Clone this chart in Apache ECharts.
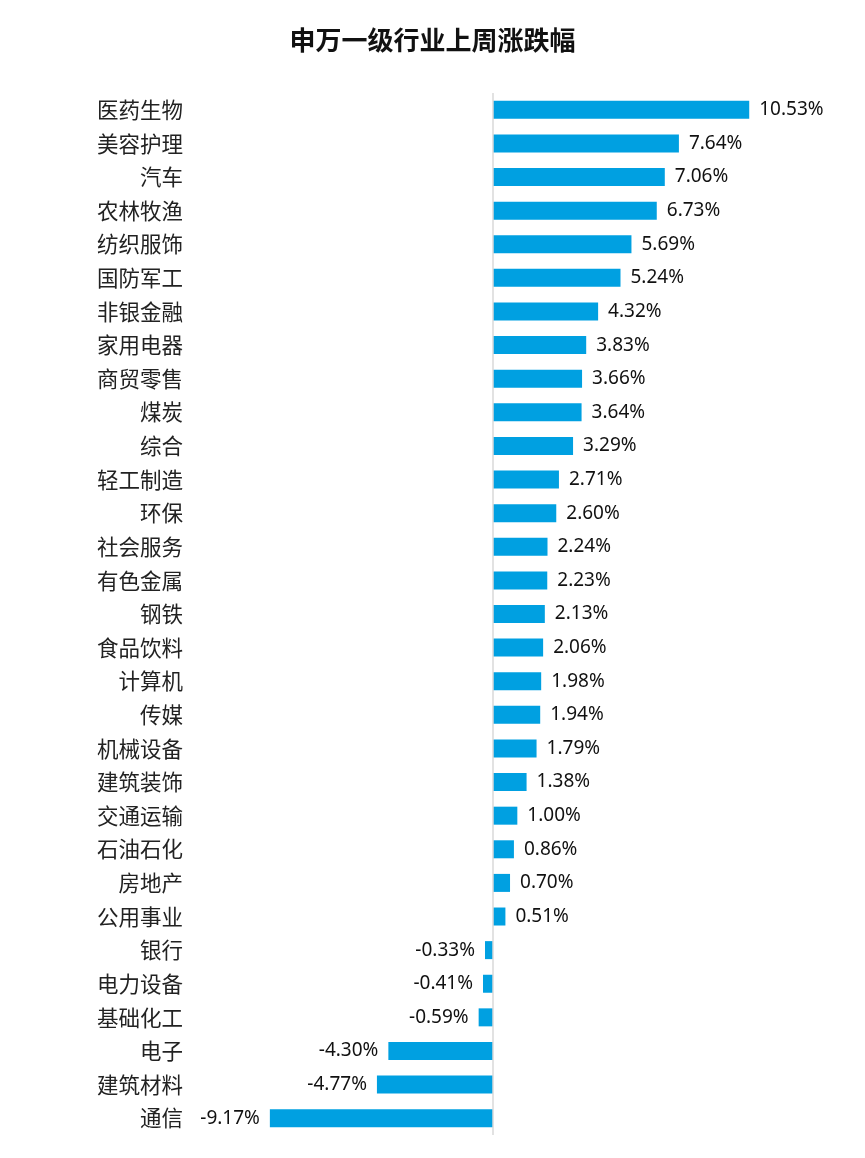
<!DOCTYPE html>
<html>
<head>
<meta charset="utf-8">
<script src="https://cdn.jsdelivr.net/npm/echarts@6/dist/echarts.min.js"></script>
<style>
html, body { margin: 0; padding: 0; background: #fff; }
#main { width: 865px; height: 1158px; }
</style>
</head>
<body>
<div id="main"></div>
<script>
var industries = ['医药生物','美容护理','汽车','农林牧渔','纺织服饰','国防军工','非银金融','家用电器','商贸零售','煤炭',
    '综合','轻工制造','环保','社会服务','有色金属','钢铁','食品饮料','计算机','传媒','机械设备',
    '建筑装饰','交通运输','石油石化','房地产','公用事业','银行','电力设备','基础化工','电子','建筑材料','通信'];
var weeklyChange = [10.53, 7.64, 7.06, 6.73, 5.69, 5.24, 4.32, 3.83, 3.66, 3.64,
    3.29, 2.71, 2.60, 2.24, 2.23, 2.13, 2.06, 1.98, 1.94, 1.79,
    1.38, 1.00, 0.86, 0.70, 0.51, -0.33, -0.41, -0.59, -4.30, -4.77, -9.17];

var barData = weeklyChange.map(function (v) {
    return {
        value: v,
        label: { position: v < 0 ? 'left' : 'right' }
    };
});

var option = {
    backgroundColor: '#fff',
    animation: false,
    title: {
        text: '申万一级行业上周涨跌幅',
        left: 'center',
        top: 22,
        textStyle: {
            fontFamily: 'Noto Sans CJK SC',
            fontSize: 26,
            fontWeight: 'bold',
            color: '#111'
        }
    },
    grid: {
        left: 201,
        right: 80,
        top: 93,
        bottom: 23,
        containLabel: false
    },
    xAxis: {
        type: 'value',
        min: -12,
        max: 12,
        show: false
    },
    yAxis: {
        type: 'category',
        inverse: true,
        data: industries,
        axisLine: { show: false },
        axisTick: { show: false },
        axisLabel: {
            margin: 18,
            padding: [8, 0, 0, 0],
            fontFamily: 'Noto Sans CJK SC',
            fontSize: 21.5,
            color: '#222'
        }
    },
    series: [
        {
            name: '涨跌幅',
            type: 'bar',
            barWidth: 18,
            itemStyle: { color: '#00A0E1' },
            label: {
                show: true,
                distance: 10,
                fontFamily: 'Noto Sans',
                fontSize: 19,
                color: '#111',
                formatter: function (p) {
                    return p.value.toFixed(2) + '%';
                }
            },
            markLine: {
                silent: true,
                symbol: 'none',
                label: { show: false },
                lineStyle: { color: '#d9d9d9', type: 'solid', width: 1.5 },
                data: [{ xAxis: 0 }]
            },
            data: barData
        }
    ]
};

var myChart = echarts.init(document.getElementById('main'));
myChart.setOption(option);
</script>
</body>
</html>
